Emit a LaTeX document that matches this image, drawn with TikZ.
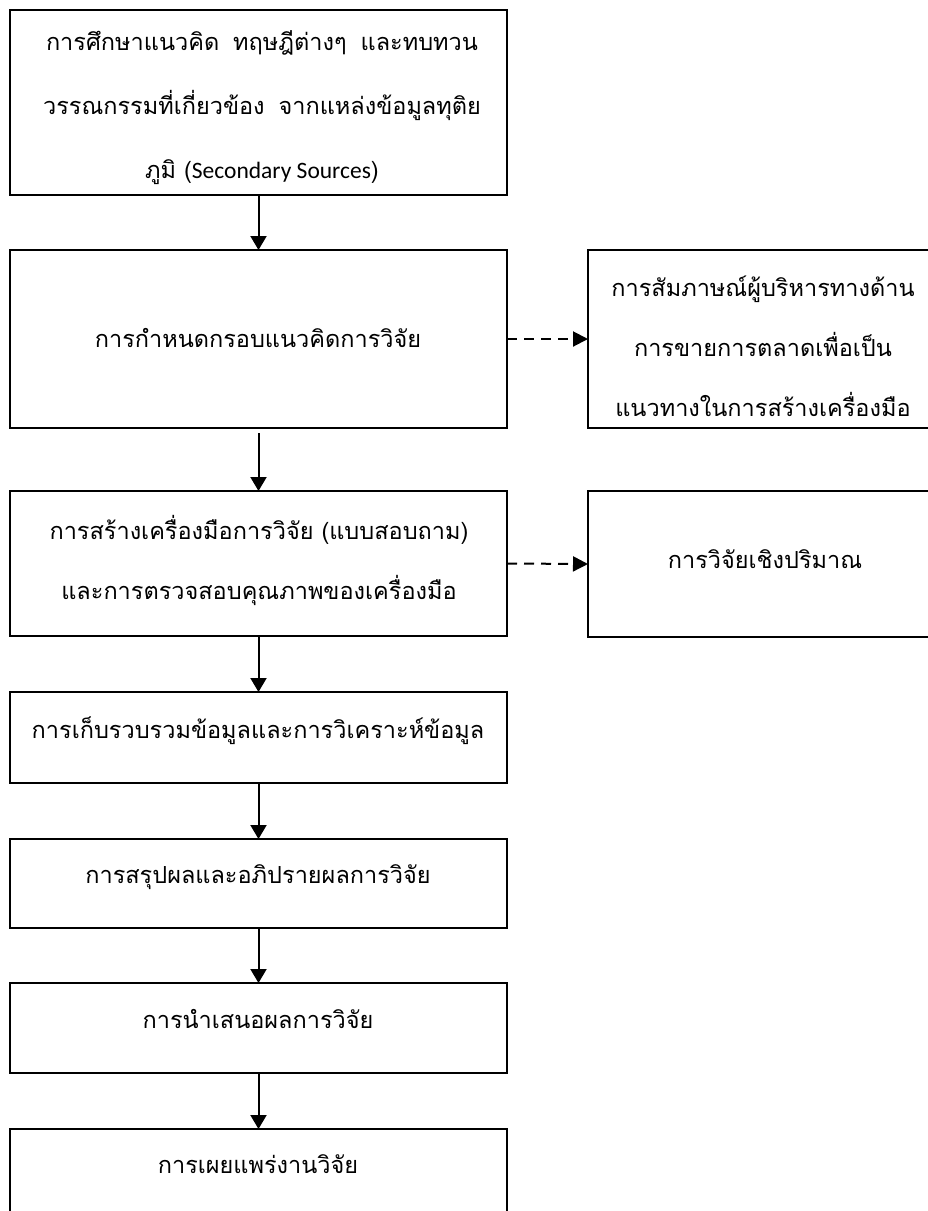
\documentclass[tikz,border=0pt]{standalone}
\usepackage{fontspec}
\newfontfamily\thaifont[Script=Thai]{Loma}
\newfontfamily\latinfont{Carlito}
\usetikzlibrary{arrows.meta}
\begin{document}
\begin{tikzpicture}[x=1pt,y=-1pt,
  box/.style={draw=black,line width=1.6pt,inner sep=0pt,outer sep=0pt,minimum width=497pt},
  sidebox/.style={draw=black,line width=1.6pt,inner sep=0pt,outer sep=0pt,minimum width=352pt},
  lbl/.style={font=\thaifont\fontsize{23.5}{60}\selectfont,align=center,inner sep=0pt},
  flow/.style={line width=2pt,-{Triangle[length=14pt,width=16pt]}},
  side/.style={line width=2pt,dash pattern=on 10pt off 7pt,-{Triangle[length=15pt,width=15pt]}}]
\useasboundingbox (0,0) rectangle (928,1211);
\clip (0,0) rectangle (928,1211);
\node[box,minimum height=185pt] (b1) at (258.5,102.5) {};
\node[box,minimum height=178pt] (b2) at (258.5,339) {};
\node[sidebox,minimum height=178pt] (r1) at (764,339) {};
\node[box,minimum height=145pt] (b3) at (258.5,563.5) {};
\node[sidebox,minimum height=146pt] (r2) at (764,564) {};
\node[box,minimum height=91pt] (b4) at (258.5,737.5) {};
\node[box,minimum height=89pt] (b5) at (258.5,883.5) {};
\node[box,minimum height=90pt] (b6) at (258.5,1028) {};
\node[box,minimum height=91pt] (b7) at (258.5,1174.5) {};
\node[lbl] (t1) at (262,108) {การศึกษาแนวคิด\hspace{6pt} ทฤษฎีต่างๆ\hspace{6pt} และทบทวน\\[4pt]วรรณกรรมที่เกี่ยวข้อง\hspace{6pt} จากแหล่งข้อมูลทุติย\\[4pt]ภูมิ ({\latinfont Secondary Sources})};
\node[lbl,anchor=base] (t2) at (258,347) {การกำหนดกรอบแนวคิดการวิจัย};
\node[lbl] (tr1) at (763,346) {การสัมภาษณ์ผู้บริหารทางด้าน\\การขายการตลาดเพื่อเป็น\\แนวทางในการสร้างเครื่องมือ};
\node[lbl] (t3) at (259,560) {การสร้างเครื่องมือการวิจัย (แบบสอบถาม)\\และการตรวจสอบคุณภาพของเครื่องมือ};
\node[lbl,anchor=base] (tr2) at (765,568) {การวิจัยเชิงปริมาณ};
\node[lbl,anchor=base] (t4) at (258,738) {การเก็บรวบรวมข้อมูลและการวิเคราะห์ข้อมูล};
\node[lbl,anchor=base] (t5) at (258,883) {การสรุปผลและอภิปรายผลการวิจัย};
\node[lbl,anchor=base] (t6) at (258,1028) {การนำเสนอผลการวิจัย};
\node[lbl,anchor=base] (t7) at (258,1173) {การเผยแพร่งานวิจัย};
\draw[flow] (b1) -- (b2);
\draw[flow,shorten <=5pt] (b2) -- (b3);
\draw[flow] (b3) -- (b4);
\draw[flow] (b4) -- (b5);
\draw[flow] (b5) -- (b6);
\draw[flow] (b6) -- (b7);
\draw[side] (b2.east) -- (r1.west);
\draw[side] (b3.east) -- (r2.west);
\end{tikzpicture}
\end{document}
